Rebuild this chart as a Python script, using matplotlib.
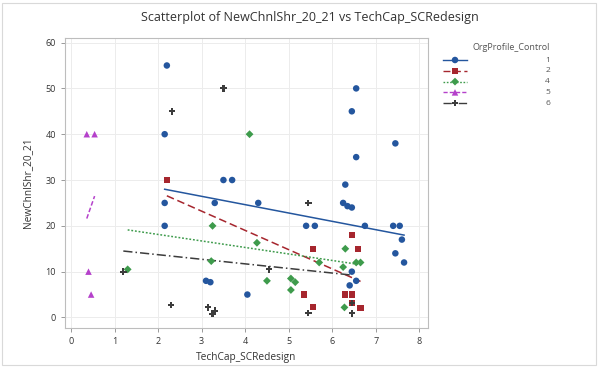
import matplotlib
matplotlib.use("Agg")
import matplotlib.pyplot as plt
from matplotlib.lines import Line2D
from matplotlib.patches import Rectangle
import numpy as np

plt.rcParams['font.family'] = ['Open Sans', 'DejaVu Sans']

# ---- data: TechCap_SCRedesign (x) vs NewChnlShr_20_21 (y), by OrgProfile_Control ----
groups = ["1", "2", "4", "5", "6"]

x_g1 = [2.2, 2.15, 2.15, 2.15, 3.5, 3.7, 3.3, 4.3, 5.4, 5.6, 6.25, 6.35, 6.45,
        6.55, 6.45, 6.55, 6.3, 7.45, 7.4, 7.55, 6.75, 7.6, 7.45, 7.65,
        3.1, 3.2, 4.05, 6.45, 6.55, 6.4]
y_g1 = [55, 40, 25, 20, 30, 30, 25, 25, 20, 20, 25, 24.3, 24,
        50, 45, 35, 29, 38, 20, 20, 20, 17, 14, 12,
        8, 7.7, 5, 10, 8, 7]

x_g2 = [2.2, 5.55, 6.6, 6.45, 5.35, 6.3, 6.45, 5.55, 6.65, 6.45]
y_g2 = [30, 15, 15, 18, 5, 5, 5, 2.2, 2, 3.2]

x_g4 = [1.3, 4.1, 3.25, 4.27, 3.22, 6.3, 6.55, 6.65, 6.25, 5.05, 5.15, 5.05,
        4.5, 5.7, 6.28]
y_g4 = [10.5, 40, 20, 16.3, 12.3, 15, 12, 12, 11, 8.5, 7.7, 6,
        8, 12, 2.2]

x_g5 = [0.36, 0.54, 0.40, 0.46]
y_g5 = [40, 40, 10, 5]

x_g6 = [1.2, 2.32, 3.5, 2.3, 3.15, 3.3, 3.25, 4.55, 5.45, 5.45, 6.45, 6.45]
y_g6 = [10, 45, 50, 2.7, 2.2, 1.5, 0.8, 10.5, 25, 1, 3.2, 0.9]

# fitted regression lines per group (intercept, slope)
fit_intercept = [31.9, 35.8, 20.96, 11.8, 15.7]
fit_slope = [-1.82, -4.2, -1.42, 27.2, -1.0]

xs = [x_g1, x_g2, x_g4, x_g5, x_g6]
ys = [y_g1, y_g2, y_g4, y_g5, y_g6]

x_ticks = [0, 1, 2, 3, 4, 5, 6, 7, 8]
y_ticks = [0, 10, 20, 30, 40, 50, 60]

# ---- styles ----
colors = ["#24569E", "#A6262E", "#3E9B4C", "#B541CB", "#3C3C3C"]
markers = ["o", "s", "D", "^", "P"]
msizes = [22, 20, 16, 22, 22]
linestyles = ["-", (0, (5, 2.5)), (0, (1.2, 1.2)), (0, (3, 1.5)), (0, (6, 2, 1, 2))]

W, H = 599, 367
fig = plt.figure(figsize=(W / 100, H / 100), dpi=100)
fig.patch.set_facecolor("white")
fig.add_artist(Rectangle((2 / W, 2 / H), (W - 5) / W, (H - 5) / H,
                         transform=fig.transFigure, fill=False,
                         edgecolor="#d9d9d9", linewidth=0.8))

ax = fig.add_axes([65 / W, 1 - 328 / H, (428 - 65) / W, (328 - 38) / H])
ax.set_xlim(-0.14, 8.2)
ax.set_ylim(-2.3, 61)
ax.set_xticks(x_ticks)
ax.set_yticks(y_ticks)
ax.grid(True, color="#ececec", linewidth=0.7)
ax.set_axisbelow(True)
for s in ax.spines.values():
    s.set_color("#bdbdbd")
    s.set_linewidth(0.8)
ax.tick_params(colors="#8a8a8a", labelcolor="#333333", labelsize=6.5,
               length=3, width=0.6)

for i in range(len(groups)):
    ax.scatter(xs[i], ys[i], s=msizes[i], marker=markers[i], color=colors[i],
               edgecolors="none", zorder=3)
    xx = np.array([min(xs[i]), max(xs[i])])
    ax.plot(xx, fit_intercept[i] + fit_slope[i] * xx, color=colors[i],
            linestyle=linestyles[i], linewidth=1.1, zorder=2)

ax.set_xlabel("TechCap_SCRedesign", fontsize=7.3, color="#333333", labelpad=4)
ax.set_ylabel("NewChnlShr_20_21", fontsize=7.3, color="#333333", labelpad=9)
fig.text(310 / W, 1 - 18 / H, "Scatterplot of NewChnlShr_20_21 vs TechCap_SCRedesign",
         ha="center", va="center", fontsize=9, color="#333333")

# ---- legend drawn in pixel-like overlay coordinates ----
lg = fig.add_axes([0, 0, 1, 1])
lg.set_xlim(0, W)
lg.set_ylim(H, 0)
lg.axis("off")
lg.text(550, 47, "OrgProfile_Control", ha="right", va="center", fontsize=6.5,
        color="#555555")
for i, g in enumerate(groups):
    yy = 60 + i * 10.8
    lg.add_line(Line2D([443, 467], [yy, yy], color=colors[i],
                       linestyle=linestyles[i], linewidth=1.0))
    lg.scatter([455], [yy], s=msizes[i], marker=markers[i], color=colors[i],
               edgecolors="none")
    lg.text(550, yy, g, ha="right", va="center", fontsize=6, color="#555555")

fig.savefig("out.png", dpi=100)
